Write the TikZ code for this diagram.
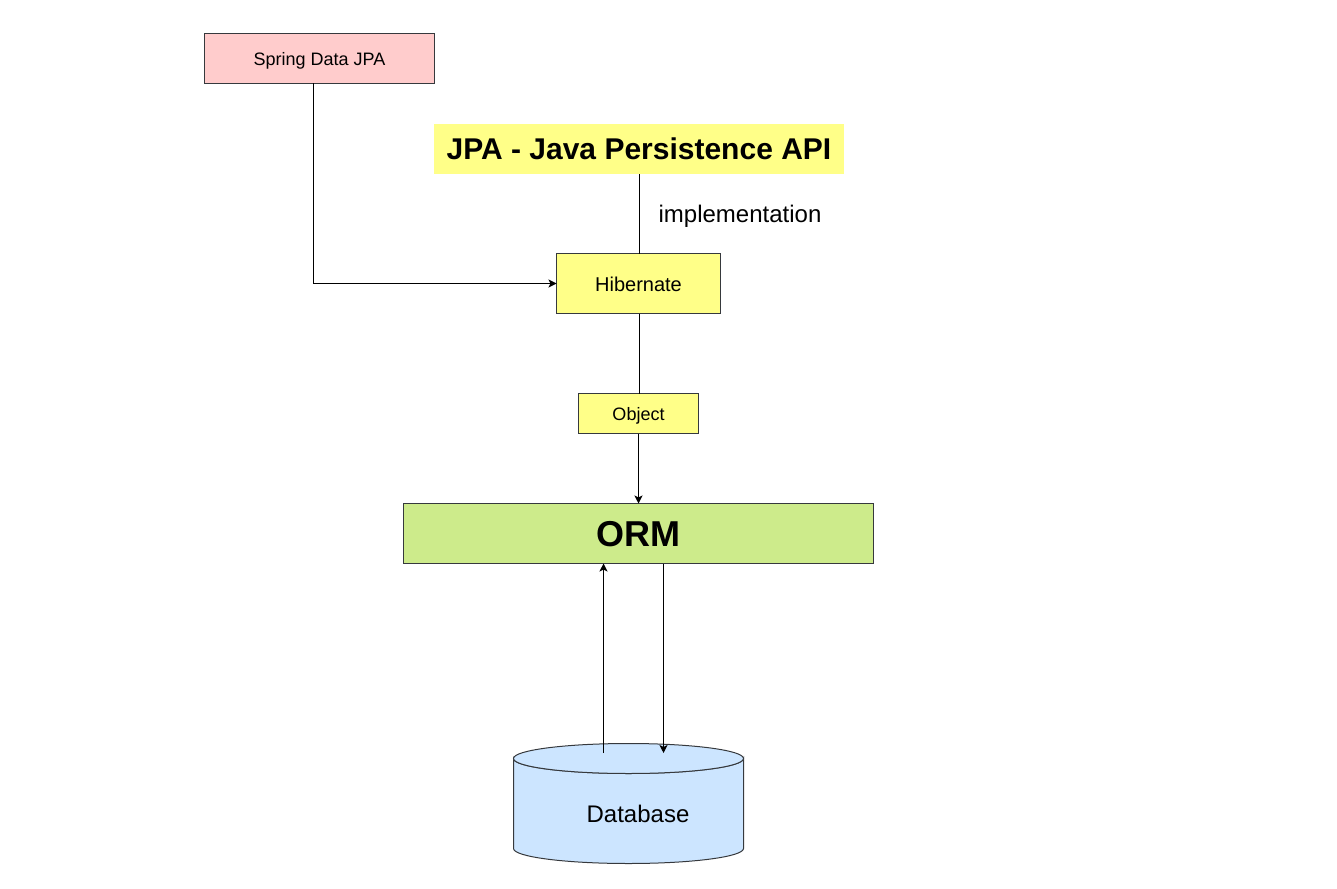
\documentclass[tikz,border=0pt]{standalone}
\usepackage{fontspec}
\setmainfont{Liberation Sans}
\usepackage{tikz}
\usetikzlibrary{arrows.meta}
\definecolor{LineDark}{HTML}{36393D}
\definecolor{BoxPink}{HTML}{FFCCCC}
\definecolor{BoxYellow}{HTML}{FFFF88}
\definecolor{BoxGreen}{HTML}{CDEB8B}
\definecolor{BoxBlue}{HTML}{CCE5FF}

\begin{document}
\begin{tikzpicture}[
                    x=0.75pt,
                    y=-0.75pt,
                    >={Stealth[length=6pt,width=6pt,inset=1.5pt]},
                    line width=0.75pt,
                    bx/.style n args = {3}{draw=LineDark, inner sep=0pt, outer sep=0pt, text height=#3*0.75pt, text depth=0pt,
                                        font=\fontsize{#3}{#3}\selectfont,
                                        minimum width=#1*0.75pt, minimum height=#2*0.75pt},
                    txt/.style = {inner sep=0pt, outer sep=0pt, text=black},
                    dbpart/.style = {draw=LineDark, fill=BoxBlue}
                    ]
\useasboundingbox (0,0) rectangle (1337,888);

\node[bx={230}{50}{13.5},fill=BoxPink]                 (spring) at (319.5,58.5)   {Spring Data JPA};
\node[bx={410}{50}{22.5},fill=BoxYellow,draw=none,text height=17.4pt,text depth=1.9pt] (jpa) at (639,149) {\bfseries JPA - Java Persistence API};
\node[bx={164}{60}{15},fill=BoxYellow]                 (hibernate) at (638.5,283.5) {Hibernate};
\node[bx={120}{40}{13.5},fill=BoxYellow]               (object) at (638.5,413.5) {Object};
\node[bx={470}{60}{27},fill=BoxGreen,text height=18.9pt] (orm) at (638.5,533.5) {\bfseries ORM};
\node[minimum width=230*0.75pt, minimum height=120*0.75pt, inner sep=0pt, outer sep=0pt] (database) at (628.5,803.5) {};
\draw[dbpart] (database.north west) ++(0,15) -- ++(0,90) arc[start angle=180, end angle=0, x radius=115, y radius=15]
              -- ++(0,-90) arc[start angle=0, end angle=180, x radius=115, y radius=15] -- cycle;
\draw[dbpart] (database.north) ++(0,15) ellipse [x radius=115, y radius=15];
\node[txt,font=\fontsize{18}{22}\selectfont]           (dbname) at (638,814) {Database};
\node[txt,font=\fontsize{18}{22}\selectfont]           (impl) at (740,216) {implementation};

\coordinate (springout) at (313.5,83.5);
\coordinate (ormup)     at (603.5,563.5);
\coordinate (dbup)      at (603.5,753);
\coordinate (ormdown)   at (663.5,563.5);
\coordinate (dbdown)    at (663.5,753);

\draw[->]  (springout) |- (hibernate.west);
\draw      (jpa.south) -- (jpa.south |- hibernate.north);
\draw      (jpa.south |- hibernate.south) -- (jpa.south |- object.north);
\draw[->]  (object.south) -- (orm.north);
\draw[->]  (dbup) -- (ormup);
\draw[->]  (ormdown) -- (dbdown);
\end{tikzpicture}
\end{document}
